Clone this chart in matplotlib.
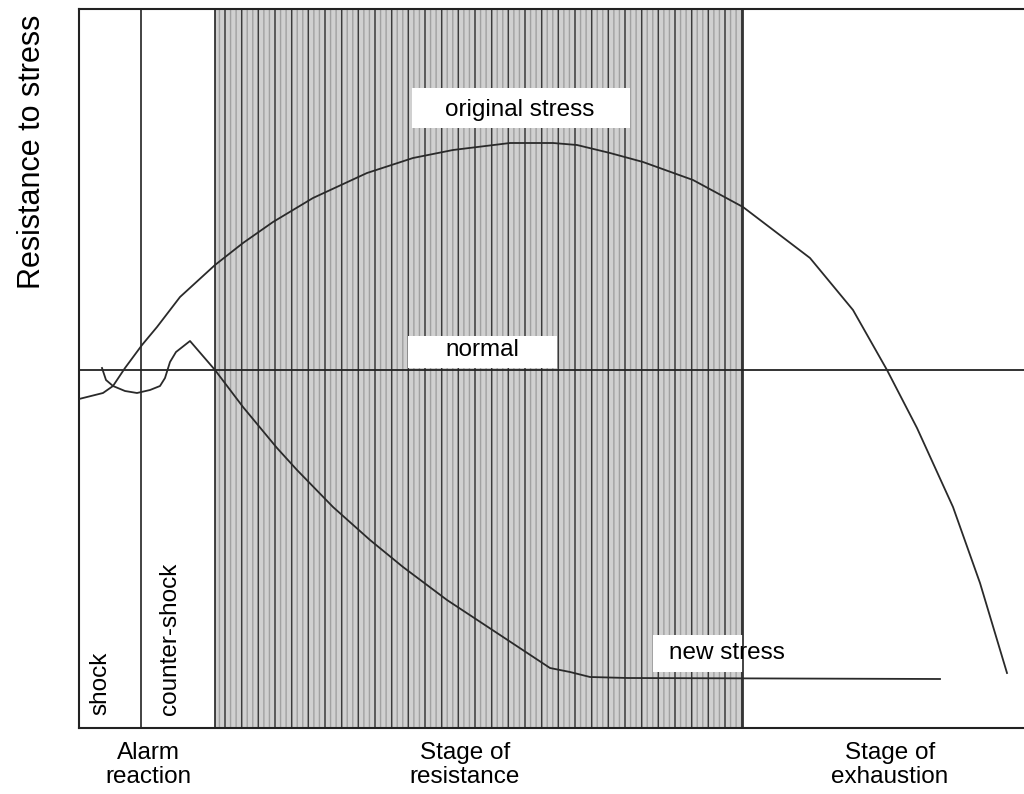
import matplotlib.pyplot as plt
from matplotlib.patches import Rectangle

plt.rcParams['font.family'] = ['Liberation Sans', 'DejaVu Sans']
plt.rcParams['hatch.linewidth'] = 1.0

# ---- data (x = time, y = resistance) ----
orig_x = [0, 24, 34, 46, 63, 78, 101, 136, 164, 194, 234, 288, 334, 374,
          431, 474, 498, 531, 564, 614, 664, 731, 774, 808, 838, 874, 901, 928]
orig_y = [329, 335, 342, 360, 383, 401, 431, 463, 485, 506, 530, 555, 570, 578,
          585, 585, 583, 575, 566, 548, 521, 470, 418, 358, 300, 221, 145, 55]

new_x = [23, 27, 34, 46, 58, 71, 81, 86, 91, 97, 111, 136, 164, 198, 218,
         254, 291, 324, 368, 418, 471, 491, 511, 549, 861]
new_y = [360, 348, 342, 337, 335, 338, 342, 350, 366, 376, 387, 358, 321, 280, 258,
         221, 188, 161, 128, 95, 60, 56, 51, 50, 49]

normal_level = 358
shock_end = 62
resist_start, resist_end = 136, 664

stage_labels = ['Alarm\nreaction', 'Stage of\nresistance', 'Stage of\nexhaustion']
stage_pos = [69, 386, 811]

fig = plt.figure(figsize=(10.24, 7.94), dpi=100)
ax = fig.add_axes([79 / 1024, 66 / 794, 955 / 1024, 719 / 794])
ax.set_xlim(0, 955)
ax.set_ylim(0, 719)
ax.set_xticks([])
ax.set_yticks([])
for s in ax.spines.values():
    s.set_linewidth(1.5)
    s.set_color('#222222')

# shaded stage of resistance
ax.axvspan(resist_start, resist_end, facecolor='#d0d0d0', edgecolor='#a0a0a0',
           hatch='|||', linewidth=0, zorder=0)
ax.axvspan(resist_start, resist_end, facecolor='none', edgecolor='#3a3a3a',
           hatch='|', linewidth=0, zorder=0.1)

# white label boxes
for (bx, by, bw, bh) in [(333, 600, 218, 40), (329, 360, 149, 32), (574, 56, 90, 37)]:
    ax.add_patch(Rectangle((bx, by), bw, bh, facecolor='white', edgecolor='none', zorder=1))

lc = '#222222'
ax.axvline(shock_end, color=lc, lw=1.2, zorder=2)
ax.axvline(resist_start, color=lc, lw=1.2, zorder=2)
ax.axvline(resist_end, color=lc, lw=1.2, zorder=2)
ax.axhline(normal_level, color=lc, lw=1.3, zorder=2)

ax.plot(orig_x, orig_y, color='#2a2a2a', lw=1.3, zorder=3)
ax.plot(new_x, new_y, color='#2a2a2a', lw=1.3, zorder=3)

fs = 17.5
ax.text(441, 618, 'original stress', fontsize=fs, ha='center', va='center', zorder=4)
ax.text(403, 378, 'normal', fontsize=fs, ha='center', va='center', zorder=4)
ax.text(648, 75, 'new stress', fontsize=fs, ha='center', va='center', zorder=4)
ax.text(21, 13, 'shock', fontsize=fs, rotation=90, ha='center', va='bottom', zorder=4)
ax.text(91, 13, 'counter-shock', fontsize=fs, rotation=90, ha='center', va='bottom', zorder=4)

for lab, xp in zip(stage_labels, stage_pos):
    ax.text(xp, -14, lab, fontsize=fs, ha='center', va='top', linespacing=1.1,
            multialignment='center', clip_on=False)

ax.text(-47, 576, 'Resistance to stress', fontsize=22, rotation=90,
        ha='center', va='center', clip_on=False)

fig.savefig('out.png', dpi=100)
